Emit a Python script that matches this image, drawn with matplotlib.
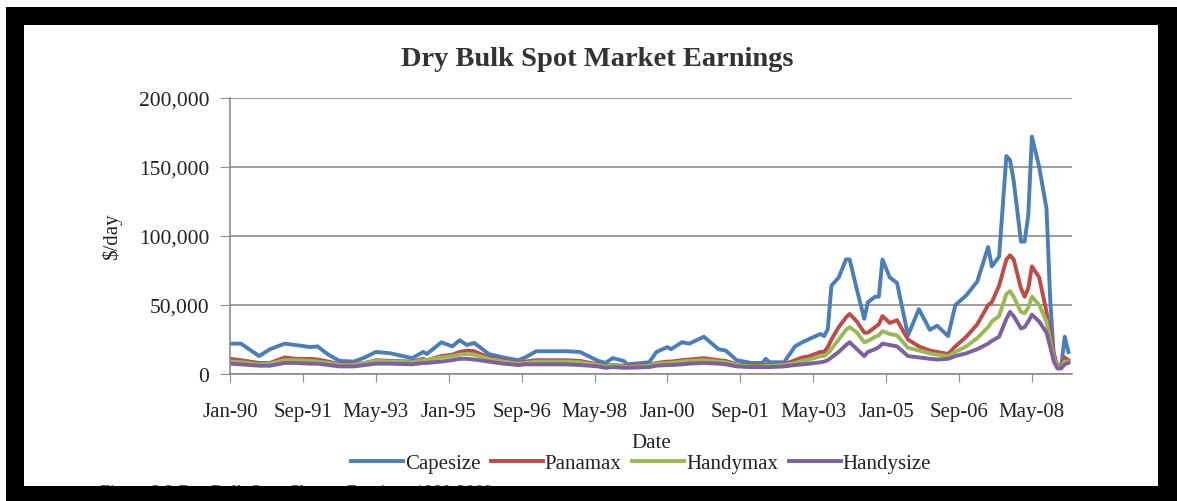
import numpy as np
import matplotlib
matplotlib.use('Agg')
import matplotlib.pyplot as plt
from matplotlib.patches import Rectangle

# months counted from Jan-1990
month = [0, 3, 8, 11, 15, 18, 22, 24, 27, 30, 34, 37, 40, 44, 50, 53, 54, 58, 61, 63,
         65, 67, 71, 75, 79, 81, 84, 92, 96, 101, 103, 105, 108, 109, 115, 117, 120, 121, 124, 126,
         130, 134, 136, 139, 143, 146, 147, 148, 152, 155, 157, 159, 162, 163, 164, 165, 167, 169, 170, 172,
         174, 175, 177, 178, 179, 181, 183, 186, 189, 192, 194, 197, 199, 202, 205, 208, 209, 211, 213, 214,
         215, 217, 218, 219, 220, 222, 224, 225, 226, 227, 228, 229, 230]

# earnings in $1000/day
capesize = [22, 22, 13, 18, 22, 21, 19.5, 20, 14, 9.5, 9, 12, 16, 15, 11.5, 16, 14.5, 23, 20, 24.5,
            21, 22.5, 14.5, 12, 10, 12, 16.5, 16.5, 16, 9.5, 8, 11.5, 9.5, 7, 8.5, 16, 19.5, 18, 23, 22,
            27, 18, 17, 10, 8, 8, 11, 8.5, 8.5, 20, 23, 25.5, 29, 27.5, 32.5, 64, 70, 83, 83, 61,
            40, 52, 56, 56, 83, 70, 66, 28, 47, 32, 35, 27.5, 50, 57, 67, 92, 78, 85, 158, 155,
            140, 96, 96, 115, 172, 150, 120, 55, 13, 5, 5, 27, 16]
panamax = [11, 10, 8, 8, 12, 11, 11, 10.5, 9, 7, 7, 8, 10, 9.5, 9, 11, 10, 13, 14, 16,
           17, 16.5, 12, 10, 8, 9, 10, 10, 9.5, 7, 6, 6.5, 6, 5.5, 6.5, 8, 9, 9, 10, 10.5,
           11.5, 10, 9.5, 7, 6, 6, 7, 6.5, 7, 10, 12, 13, 16, 16, 19.5, 25, 34, 41, 43.5, 38,
           30, 30, 34, 36, 42, 37, 39, 25, 20, 17, 16, 14.5, 20, 27, 36, 50, 52, 64, 83, 86,
           83, 62, 56, 62, 78, 70, 45, 30, 15, 6, 5, 12, 10]
handymax = [9, 8.5, 7, 7.5, 10, 10, 9.5, 9, 8, 6.5, 6.5, 8, 9.5, 9, 8.5, 10, 10, 12, 13, 14,
            14.5, 14, 11, 9, 7.5, 8, 9, 9, 8.5, 6.5, 5.5, 6, 5.5, 5, 6, 7.5, 8, 8, 9, 9.5,
            10, 9, 8.5, 6.5, 5.5, 5.5, 6, 6, 6.5, 8, 9.5, 10.5, 13, 13, 15, 18, 25, 32, 34, 30,
            23, 24, 27, 28, 31, 29, 28, 19, 17, 15, 14, 13, 16, 20, 26, 34, 38, 42, 58, 60,
            56, 45, 44, 48, 56, 50, 38, 24, 12, 5, 4.5, 9, 9]
handysize = [7.5, 7, 6, 6, 8, 8, 7.5, 7.5, 6.5, 5.5, 5.5, 6.5, 7.5, 7.5, 7, 8, 8, 9, 10, 11,
             11, 10.5, 9, 7.5, 6.5, 7, 7, 7, 6.5, 5.5, 4.5, 5, 4.5, 4.5, 5, 6, 6.5, 6.5, 7, 7.5,
             8, 7.5, 7, 5.5, 5, 5, 5, 5, 5.5, 6.5, 7, 7.5, 8.5, 9, 10, 12, 16, 21, 23, 18,
             13, 16, 18, 19.5, 22, 21, 20, 13, 12, 11, 10.5, 11, 13, 15, 18, 22, 24, 27, 40, 45,
             42, 33, 34, 38, 43, 38, 30, 20, 9, 4, 4, 7, 8]

names = ['Capesize', 'Panamax', 'Handymax', 'Handysize']
colors = ['#4A7EBB', '#BE4B48', '#98B954', '#7D60A0']
tick_pos = [0, 20, 40, 60, 80, 100, 120, 140, 160, 180, 200, 220]
tick_labels = ['Jan-90', 'Sep-91', 'May-93', 'Jan-95', 'Sep-96', 'May-98',
               'Jan-00', 'Sep-01', 'May-03', 'Jan-05', 'Sep-06', 'May-08']

serif = ['Liberation Serif', 'DejaVu Serif']
plt.rcParams['font.family'] = serif

W, H = 1177, 502
fig = plt.figure(figsize=(W / 100, H / 100), dpi=100, facecolor='white')
ax = fig.add_axes([230 / W, 1 - 375 / H, (1072 - 230) / W, (375 - 99) / H])

for vals, name, col in zip([capesize, panamax, handymax, handysize], names, colors):
    ax.plot(month, np.array(vals) * 1000, color=col, lw=2.8, label=name,
            solid_joinstyle='round')

ax.set_xlim(0, 231)
ax.set_ylim(0, 200000)
ax.set_yticks(np.arange(0, 200001, 50000))
ax.set_yticklabels(['{:,}'.format(v) for v in range(0, 200001, 50000)])
ax.set_xticks(tick_pos)
ax.set_xticklabels(tick_labels)
ax.grid(axis='y', color='#8c8c8c', lw=1.2)
ax.set_axisbelow(True)
for s in ['top', 'right']:
    ax.spines[s].set_visible(False)
for s in ['left', 'bottom']:
    ax.spines[s].set_color('#8c8c8c')
    ax.spines[s].set_linewidth(1.2)
ax.tick_params(axis='y', length=7, color='#8c8c8c', labelsize=15.5, pad=8, colors='#222222')
ax.tick_params(axis='x', length=6, color='#8c8c8c', labelsize=15, pad=14, colors='#222222')
ax.set_ylabel('$/day', fontsize=15, labelpad=12, color='#222222')
ax.set_xlabel('Date', fontsize=15, labelpad=9, color='#222222')

ax.legend(loc='upper center', bbox_to_anchor=(0.488, -0.258), ncol=4, frameon=False,
          prop={'family': serif, 'size': 15}, handlelength=2.5, handletextpad=0.1,
          columnspacing=0.5, borderaxespad=0, labelcolor='#222222')

fig.text(597 / W, 1 - 60 / H, 'Dry Bulk Spot Market Earnings', ha='center', va='center',
         fontsize=20.5, fontweight='bold', color='#333333')

# caption mostly hidden behind the frame
fig.text(100 / W, 1 - 485 / H, 'Figure 2.3 Dry Bulk Spot Charter Earnings 1990-2009',
         ha='left', va='top', fontsize=13, color='#444444', zorder=5)

# black frame round the picture
def px_rect(x0, y0, x1, y1):
    return Rectangle((x0 / W, 1 - y1 / H), (x1 - x0) / W, (y1 - y0) / H,
                     transform=fig.transFigure, facecolor='black', edgecolor='none', zorder=10)

fig.patches.extend([px_rect(6, 8, W, 26), px_rect(6, 8, 24, H),
                    px_rect(1158, 8, W, H), px_rect(6, 487, W, H)])

fig.savefig('out.png', dpi=100, facecolor='white')
